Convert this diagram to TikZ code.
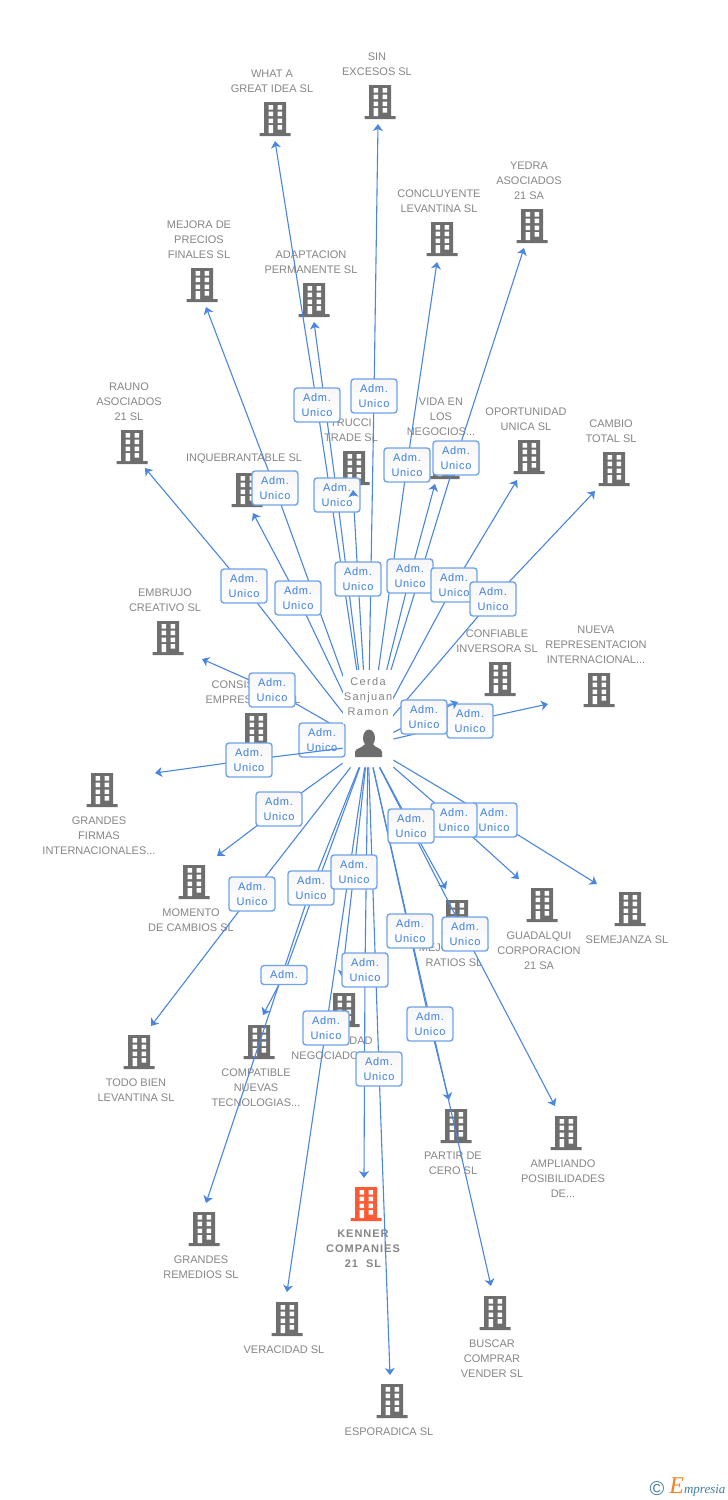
\documentclass[tikz,border=0pt]{standalone}
\usepackage{fontspec}
\usepackage{tikz}
\usetikzlibrary{arrows.meta}
\setmainfont{Liberation Sans}
\newfontfamily\fontadm[LetterSpace=6]{Liberation Sans}
\newfontfamily\fontcerda[LetterSpace=12]{Liberation Sans}
\newfontfamily\fontkenner[LetterSpace=9]{Liberation Sans}
\newfontfamily\fontlogo{Liberation Serif}
\definecolor{gris}{HTML}{6E6E6E}
\definecolor{grisrotulo}{HTML}{858585}
\definecolor{naranja}{HTML}{FF5A33}
\definecolor{azul}{HTML}{4A86E0}
\definecolor{azulborde}{HTML}{6FA3EA}
\definecolor{azuladm}{HTML}{3C7FE0}
\definecolor{logoazul}{HTML}{3F7F9B}
\definecolor{logonaranja}{HTML}{F58220}
\tikzset{
  rotulo/.style={inner sep=0pt, outer sep=4pt, align=center, text=grisrotulo, font=\fontsize{5.5}{7.5}\selectfont},
  edificio/.style={inner sep=0pt, minimum width=20pt, minimum height=18pt,
    path picture={\begin{scope}[shift={(path picture bounding box.center)}]
      \fill[#1] (-8,-17) rectangle (14,14) (-12.5,14) rectangle (18.5,17);
      \fill[white] (-3.5,-14) rectangle (1,-9.5) (5.5,-14) rectangle (10,-9.5)
        (-3.5,-7.5) rectangle (1,-3) (5.5,-7.5) rectangle (10,-3)
        (-3.5,-0.5) rectangle (1,4) (5.5,-0.5) rectangle (10,4)
        (-3.5,6) rectangle (1,14) (5.5,6) rectangle (10,10.5);
    \end{scope}}},
  edificio/.default=gris,
  persona/.style={inner sep=0pt, minimum width=25pt, minimum height=22pt,
    path picture={\begin{scope}[shift={(path picture bounding box.center)}]
      \fill[gris] (1,-7) ellipse [x radius=6, y radius=8.5];
      \fill[gris] (-13,12) -- (-13,7) .. controls (-13,3) and (-5,3) .. (-3,-1) -- (5,-1)
        .. controls (7,3) and (14,3) .. (14,7) -- (14,12) -- cycle;
    \end{scope}}},
  enlace/.style={draw=azul, line width=0.55pt, line join=round, -{Stealth[length=3.5pt, width=5pt, inset=1pt]}},
  adm/.style={draw=azulborde, line width=0.7pt, rounded corners=1.5pt, top color=gray!7, bottom color=white,
    inner sep=0pt, align=center, minimum width=23pt, minimum height=17pt, text=azuladm,
    font=\fontadm\fontsize{5.5}{7.5}\selectfont},
}

\begin{document}
\begin{tikzpicture}[x=0.5pt, y=-0.5pt]
\useasboundingbox (0,0) rectangle (728,1500);
% empresas
\node[edificio, label={[rotulo]above:{WHAT A\\GREAT IDEA SL}}] (BWhat) at (272,119) {};
\node[edificio, label={[rotulo]above:{SIN\\EXCESOS SL}}] (BSin) at (377,102) {};
\node[edificio, label={[rotulo]above:{CONCLUYENTE\\LEVANTINA SL}}] (BConcluyente) at (439,239) {};
\node[edificio, label={[rotulo]above:{YEDRA\\ASOCIADOS\\21 SA}}] (BYedra) at (529,226) {};
\node[edificio, label={[rotulo]above:{MEJORA DE\\PRECIOS\\FINALES SL}}] (BMejora) at (199,285) {};
\node[edificio, label={[rotulo]above:{ADAPTACION\\PERMANENTE SL}}] (BAdaptacion) at (311,300) {};
\node[edificio, label={[rotulo]above:{RAUNO\\ASOCIADOS\\21 SL}}] (BRauno) at (129,447) {};
\node[edificio, label={[rotulo]above:{INQUEBRANTABLE SL}}] (BInquebrantable) at (244,490) {};
\node[edificio, label={[rotulo]above:{TRUCCI\\TRADE SL}}] (BTrucci) at (351,468) {};
\node[edificio, label={[rotulo]above:{VIDA EN\\LOS\\NEGOCIOS...}}] (BVida) at (441,462) {};
\node[edificio, label={[rotulo]above:{OPORTUNIDAD\\UNICA SL}}] (BOportunidad) at (526,457) {};
\node[edificio, label={[rotulo]above:{CAMBIO\\TOTAL SL}}] (BCambio) at (611,469) {};
\node[edificio, label={[rotulo]above:{EMBRUJO\\CREATIVO SL}}] (BEmbrujo) at (165,638) {};
\node[edificio, label={[rotulo]above:{CONFIABLE\\INVERSORA SL}}] (BConfiable) at (497,679) {};
\node[edificio, label={[rotulo]above:{NUEVA\\REPRESENTACION\\INTERNACIONAL...}}] (BNueva) at (596,690) {};
\node[edificio, label={[rotulo]above:{CONSISTENCIA\\EMPRESARIAL SL}}] (BConsi) at (253,730) {};
\node[edificio, label={[rotulo]below:{GRANDES\\FIRMAS\\INTERNACIONALES...}}] (BFirmas) at (99,790) {};
\node[edificio, label={[rotulo]below:{MOMENTO\\DE CAMBIOS SL}}] (BMomento) at (191,882) {};
\node[edificio, label={[rotulo]below:{TODO BIEN\\LEVANTINA SL}}] (BTodo) at (136,1052) {};
\node[edificio, label={[rotulo]below:{COMPATIBLE\\NUEVAS\\TECNOLOGIAS...}}] (BCompatible) at (256,1042) {};
\node[edificio, label={[rotulo]below:{GRANDES\\REMEDIOS SL}}] (BRemedios) at (201,1229) {};
\node[edificio, label={[rotulo]below:{VERACIDAD SL}}] (BVeracidad) at (284,1319) {};
\node[edificio=naranja, label={[rotulo, font=\fontkenner\bfseries\fontsize{5.5}{7.5}\selectfont]below:{KENNER\\COMPANIES\\21\ \ SL}}] (BKenner) at (363,1204) {};
\node[edificio, label={[rotulo]below:{ESPORADICA SL}}] (BEsporadica) at (389,1401) {};
\node[edificio, label={[rotulo]below:{BUSCAR\\COMPRAR\\VENDER SL}}] (BBuscar) at (492,1313) {};
\node[edificio, label={[rotulo]below:{PARTIR DE\\CERO SL}}] (BPartir) at (453,1126) {};
\node[edificio, label={[rotulo]below:{AMPLIANDO\\POSIBILIDADES\\DE...}}] (BAmpliando) at (563,1133) {};
\node[edificio, label={[rotulo]below:{CAPACIDAD\\NEGOCIADORA SL}}] (BCapacidad) at (341,1010) {};
\node[edificio, label={[rotulo]below:{MEJORANDO\\RATIOS SL}}] (BRatios) at (454,917) {};
\node[edificio, label={[rotulo]below:{GUADALQUI\\CORPORACION\\21 SA}}] (BGuadalqui) at (539,905) {};
\node[edificio, label={[rotulo]below:{SEMEJANZA SL}}] (BSemejanza) at (627,909) {};
% administrador
\node[persona] (PCerda) at (368,745) {};
% enlaces: cada linea pasa por el centro de su caja
\path (244,586) coordinate (CRauno) (145,468) coordinate (TRauno);
\draw[enlace] (PCerda) -- (CRauno) -- (TRauno);
\path (298,598) coordinate (CInquebrantable) (253,513) coordinate (TInquebrantable);
\draw[enlace] (PCerda) -- (CInquebrantable) -- (TInquebrantable);
\path (275,488) coordinate (CMejora) (206,307) coordinate (TMejora);
\draw[enlace] (PCerda) -- (CMejora) -- (TMejora);
\path (317,405) coordinate (CWhat) (275,141) coordinate (TWhat);
\draw[enlace] (PCerda) -- (CWhat) -- (TWhat);
\path (337,495) coordinate (CAdaptacion) (314,322) coordinate (TAdaptacion);
\draw[enlace] (PCerda) -- (CAdaptacion) -- (TAdaptacion);
\path (358,579) coordinate (CTrucci) (353.4,496) coordinate (DTrucci) (353,490) coordinate (TTrucci);
\draw[enlace, -] (PCerda) -- (CTrucci) -- (TTrucci);
\path (374,396) coordinate (CSin) (378,124) coordinate (TSin);
\draw[enlace] (PCerda) -- (CSin) -- (TSin);
\path (407,465) coordinate (CConcluyente) (437,262) coordinate (TConcluyente);
\draw[enlace] (PCerda) -- (CConcluyente) -- (TConcluyente);
\path (456,458) coordinate (CYedra) (524,248) coordinate (TYedra);
\draw[enlace] (PCerda) -- (CYedra) -- (TYedra);
\path (410,576) coordinate (CVida) (435,484) coordinate (TVida);
\draw[enlace] (PCerda) -- (CVida) -- (TVida);
\path (454,585) coordinate (COportunidad) (517,480) coordinate (TOportunidad);
\draw[enlace] (PCerda) -- (COportunidad) -- (TOportunidad);
\path (493,599) coordinate (CCambio) (595,491) coordinate (TCambio);
\draw[enlace] (PCerda) -- (CCambio) -- (TCambio);
\path (470,721) coordinate (CNueva) (548,704) coordinate (TNueva);
\draw[enlace] (PCerda) -- (CNueva) -- (TNueva);
\path (272,690) coordinate (CEmbrujo) (202,659) coordinate (TEmbrujo);
\draw[enlace] (PCerda) -- (CEmbrujo) -- (TEmbrujo);
\path (322,740) coordinate (CConsi);
\draw[enlace, -] (PCerda) -- (CConsi);
\path (279,809) coordinate (CMomento) (217,856) coordinate (TMomento);
\draw[enlace] (PCerda) -- (CMomento) -- (TMomento);
\path (252,894) coordinate (CTodo) (151,1026) coordinate (TTodo);
\draw[enlace] (PCerda) -- (CTodo) -- (TTodo);
\path (311,888) coordinate (CRemedios) (206,1203) coordinate (TRemedios);
\draw[enlace] (PCerda) -- (CRemedios) -- (TRemedios);
\path (284,975) coordinate (CCompatible) (263,1015) coordinate (TCompatible);
\draw[enlace] (PCerda) -- (CCompatible) -- (TCompatible);
\path (354,872) coordinate (CCapacidad) (342,977) coordinate (TCapacidad);
\draw[enlace] (PCerda) -- (CCapacidad) -- (TCapacidad);
\path (326,1028) coordinate (CVeracidad) (287,1292) coordinate (TVeracidad);
\draw[enlace] (PCerda) -- (CVeracidad) -- (TVeracidad);
\path (365,970) coordinate (CKenner) (364,1178) coordinate (TKenner);
\draw[enlace] (PCerda) -- (CKenner) -- (TKenner);
\path (379,1069) coordinate (CEsporadica) (390,1375) coordinate (TEsporadica);
\draw[enlace] (PCerda) -- (CEsporadica) -- (TEsporadica);
\path (410,931) coordinate (CBuscar) (491,1286) coordinate (TBuscar);
\draw[enlace] (PCerda) -- (CBuscar) -- (TBuscar);
\path (430,1024) coordinate (CPartir) (449,1100) coordinate (TPartir);
\draw[enlace] (PCerda) -- (CPartir) -- (TPartir);
\path (465,934) coordinate (CAmpliando) (555,1106) coordinate (TAmpliando);
\draw[enlace] (PCerda) -- (CAmpliando) -- (TAmpliando);
\path (494,820) coordinate (CSemejanza) (597,884) coordinate (TSemejanza);
\draw[enlace] (PCerda) -- (CSemejanza) -- (TSemejanza);
\path (454,820) coordinate (CGuadalqui) (519,879) coordinate (TGuadalqui);
\draw[enlace] (PCerda) -- (CGuadalqui) -- (TGuadalqui);
\path (411,826) coordinate (CRatios) (446,889) coordinate (TRatios);
\draw[enlace] (PCerda) -- (CRatios) -- (TRatios);
% cajas
\node[adm] (ARauno) at (CRauno) {Adm.\\Unico};
\node[adm] (AInquebrantable) at (CInquebrantable) {Adm.\\Unico};
\node[adm] (AMejora) at (CMejora) {Adm.\\Unico};
\node[adm] (AWhat) at (CWhat) {Adm.\\Unico};
\node[adm] (AAdaptacion) at (CAdaptacion) {Adm.\\Unico};
\node[adm] (ATrucci) at (CTrucci) {Adm.\\Unico};
\node[adm] (ASin) at (CSin) {Adm.\\Unico};
\node[adm] (AConcluyente) at (CConcluyente) {Adm.\\Unico};
\node[adm] (AYedra) at (CYedra) {Adm.\\Unico};
\node[adm] (AVida) at (CVida) {Adm.\\Unico};
\node[adm] (AOportunidad) at (COportunidad) {Adm.\\Unico};
\node[adm] (ACambio) at (CCambio) {Adm.\\Unico};
\node[adm] (ANueva) at (CNueva) {Adm.\\Unico};
\node[adm] (AEmbrujo) at (CEmbrujo) {Adm.\\Unico};
\node[adm] (AConsi) at (CConsi) {Adm.\\Unico};
\node[adm] (AMomento) at (CMomento) {Adm.\\Unico};
\node[adm] (ATodo) at (CTodo) {Adm.\\Unico};
\node[adm] (ARemedios) at (CRemedios) {Adm.\\Unico};
\node[adm, minimum height=9.5pt] (ACompatible) at (CCompatible) {Adm.};
\node[adm] (ACapacidad) at (CCapacidad) {Adm.\\Unico};
\node[adm] (AVeracidad) at (CVeracidad) {Adm.\\Unico};
\node[adm] (AKenner) at (CKenner) {Adm.\\Unico};
\node[adm] (AEsporadica) at (CEsporadica) {Adm.\\Unico};
\node[adm] (ABuscar) at (CBuscar) {Adm.\\Unico};
\node[adm] (APartir) at (CPartir) {Adm.\\Unico};
\node[adm] (AAmpliando) at (CAmpliando) {Adm.\\Unico};
\node[adm] (ASemejanza) at (CSemejanza) {Adm.\\Unico};
\node[adm] (AGuadalqui) at (CGuadalqui) {Adm.\\Unico};
\node[adm] (ARatios) at (CRatios) {Adm.\\Unico};
% estas quedan por encima de otra caja
\draw[enlace] (DTrucci) -- (TTrucci);
\path (249,760) coordinate (CFirmas) (155,773) coordinate (TFirmas);
\draw[enlace] (PCerda) -- (CFirmas) -- (TFirmas);
\node[adm] (AFirmas) at (CFirmas) {Adm.\\Unico};
\path (424,717) coordinate (CConfiable) (458,702) coordinate (TConfiable);
\draw[enlace] (PCerda) -- (CConfiable) -- (TConfiable);
\node[adm] (AConfiable) at (CConfiable) {Adm.\\Unico};
% nombre del administrador, tapa el arranque de las lineas
\node[rotulo, outer sep=0pt, fill=white, minimum width=25pt, minimum height=27pt, font=\fontcerda\fontsize{5.5}{7.5}\selectfont] (TxtCerda) at (368,697) {Cerda\\Sanjuan\\Ramon};
% logotipo
\node[inner sep=0pt, text=logoazul] (LogoC) at (657,1489) {\fontsize{10}{10}\selectfont\copyright};
\node[inner sep=0pt, anchor=base west, text=logoazul, font=\fontlogo\itshape\fontsize{6.5}{7}\selectfont] (Logo) at (669,1493) {\textcolor{logonaranja}{\fontsize{12}{12}\selectfont E}mpresia};
\end{tikzpicture}
\end{document}
